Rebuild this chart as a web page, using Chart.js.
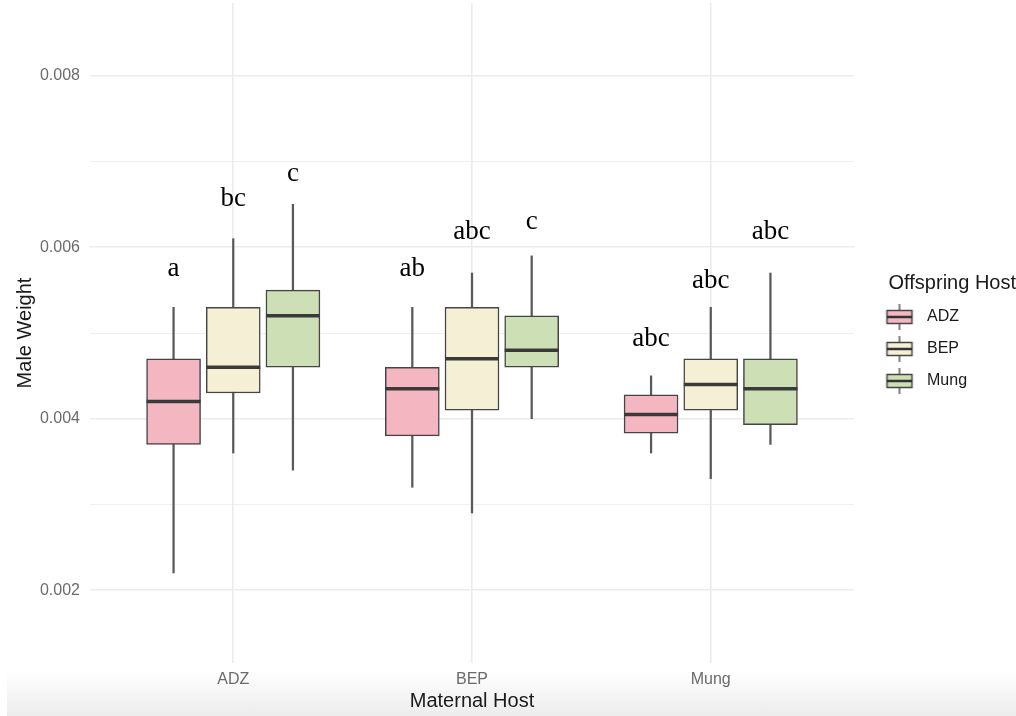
<!DOCTYPE html>
<html>
<head>
<meta charset="utf-8">
<title>Male Weight by Maternal Host</title>
<script src="https://cdn.jsdelivr.net/npm/chart.js@4.4.1/dist/chart.umd.min.js"></script>
<style>
  body { margin: 0; background: #fff; }
  #wrap { position: relative; width: 1016px; height: 716px; }
  #shade { position: absolute; left: 7px; right: 0; top: 670px; bottom: 0;
           background: linear-gradient(#ffffff, #ececec); }
  #chart { position: relative; }
</style>
</head>
<body>
<div id="wrap">
  <div id="shade"></div>
  <canvas id="chart" width="1016" height="716"></canvas>
</div>
<script>
// x axis groups and legend groups
const maternalHosts = ['ADZ', 'BEP', 'Mung'];
const offspringHosts = ['ADZ', 'BEP', 'Mung'];

// box statistics, one value per maternal host (ADZ, BEP, Mung)
const adzLow  = [0.0022, 0.0032, 0.0036];
const adzQ1   = [0.0037, 0.0038, 0.00383];
const adzMed  = [0.0042, 0.00435, 0.00405];
const adzQ3   = [0.0047, 0.0046, 0.00428];
const adzHigh = [0.0053, 0.0053, 0.0045];

const bepLow  = [0.0036, 0.0029, 0.0033];
const bepQ1   = [0.0043, 0.0041, 0.0041];
const bepMed  = [0.0046, 0.0047, 0.0044];
const bepQ3   = [0.0053, 0.0053, 0.0047];
const bepHigh = [0.0061, 0.0057, 0.0053];

const mungLow  = [0.0034, 0.0040, 0.0037];
const mungQ1   = [0.0046, 0.0046, 0.00393];
const mungMed  = [0.0052, 0.0048, 0.00435];
const mungQ3   = [0.0055, 0.0052, 0.0047];
const mungHigh = [0.0065, 0.0059, 0.0057];

// significance letters and where they sit (baseline value)
const adzLetters  = ['a', 'ab', 'abc'];
const bepLetters  = ['bc', 'abc', 'abc'];
const mungLetters = ['c', 'c', 'abc'];
const adzLetterY  = [0.00567, 0.00566, 0.00485];
const bepLetterY  = [0.00648, 0.00610, 0.00552];
const mungLetterY = [0.00677, 0.00621, 0.00610];

const yTicks = [0.002, 0.003, 0.004, 0.005, 0.006, 0.007, 0.008];

const fills = ['#f4b7c2', '#f5f0d5', '#cddfb4'];
const dodge = [-0.25, 0, 0.25];
const boxLine = '#454545';

const groups = [
  { low: adzLow, q1: adzQ1, med: adzMed, q3: adzQ3, high: adzHigh, letters: adzLetters, letterY: adzLetterY },
  { low: bepLow, q1: bepQ1, med: bepMed, q3: bepQ3, high: bepHigh, letters: bepLetters, letterY: bepLetterY },
  { low: mungLow, q1: mungQ1, med: mungMed, q3: mungQ3, high: mungHigh, letters: mungLetters, letterY: mungLetterY }
];

const pos = (i, j) => i + 1 + dodge[j];

// little boxplot glyphs for the legend
function makeGlyph(fill) {
  const c = document.createElement('canvas');
  c.width = 60; c.height = 30;
  const g = c.getContext('2d');
  g.strokeStyle = '#555'; g.lineWidth = 1.5;
  g.beginPath(); g.moveTo(35, 2); g.lineTo(35, 28); g.stroke();
  g.fillStyle = fill; g.fillRect(22, 8, 26, 14);
  g.strokeStyle = boxLine; g.strokeRect(22.5, 8.5, 25, 13);
  g.lineWidth = 2.5; g.strokeStyle = '#333';
  g.beginPath(); g.moveTo(22, 15); g.lineTo(48, 15); g.stroke();
  return c;
}
const glyphs = fills.map(makeGlyph);

const datasets = [];

// whiskers
datasets.push({
  type: 'bar', label: '', order: 3, grouped: false, barThickness: 1.6,
  backgroundColor: '#5a5a5a', borderWidth: 0,
  data: groups.flatMap((g, j) => maternalHosts.map((m, i) => ({ x: pos(i, j), y: [g.low[i], g.high[i]] })))
});

// boxes
groups.forEach((g, j) => {
  datasets.push({
    type: 'bar', label: offspringHosts[j], order: 2, grouped: false, barThickness: 54,
    backgroundColor: fills[j], borderColor: boxLine, borderWidth: 1.5, borderSkipped: false,
    data: maternalHosts.map((m, i) => ({ x: pos(i, j), y: [g.q1[i], g.q3[i]] }))
  });
});

// medians
datasets.push({
  type: 'scatter', label: '', order: 1,
  pointStyle: 'line', pointRadius: 27, pointBorderWidth: 3.5, pointBorderColor: '#3a3a3a',
  data: groups.flatMap((g, j) => maternalHosts.map((m, i) => ({ x: pos(i, j), y: g.med[i] })))
});

const letterPlugin = {
  id: 'letters',
  afterDatasetsDraw(chart) {
    const { ctx, scales: { x, y } } = chart;
    ctx.save();
    ctx.font = '27px "Liberation Serif", "Times New Roman", serif';
    ctx.fillStyle = '#000';
    ctx.textAlign = 'center';
    ctx.textBaseline = 'alphabetic';
    groups.forEach((g, j) => {
      maternalHosts.forEach((m, i) => {
        ctx.fillText(g.letters[i], x.getPixelForValue(pos(i, j)), y.getPixelForValue(g.letterY[i]));
      });
    });
    ctx.restore();
  }
};

// keep the legend column as wide as the space right of the panel
const legendWidthPlugin = {
  id: 'legendWidth',
  beforeLayout(chart) {
    const lg = chart.legend;
    if (lg && !lg._wide) {
      const fit = lg.fit.bind(lg);
      lg.fit = function () { fit(); this.width = 162; };
      lg._wide = true;
    }
  }
};

const sans = '"Liberation Sans", Arial, Helvetica, sans-serif';

new Chart(document.getElementById('chart'), {
  type: 'bar',
  data: { datasets },
  options: {
    responsive: false,
    animation: false,
    events: [],
    layout: { autoPadding: false, padding: { top: 3, left: 0, right: 0, bottom: 0 } },
    scales: {
      x: {
        type: 'linear', min: 0.4, max: 3.6, offset: false,
        afterBuildTicks: s => { s.ticks = maternalHosts.map((m, i) => ({ value: i + 1 })); },
        afterFit: s => { s.height = 53; s.paddingLeft = 0; s.paddingRight = 0; },
        border: { display: false },
        grid: { color: '#ebebeb', lineWidth: 1.6, drawTicks: false, offset: false },
        ticks: {
          padding: 7, color: '#6b6b6b', font: { family: sans, size: 16 },
          callback: v => maternalHosts[Math.round(v) - 1]
        },
        title: { display: true, text: 'Maternal Host', color: '#1a1a1a',
                 font: { family: sans, size: 20 }, padding: { top: 0, bottom: 3 } }
      },
      y: {
        min: 0.00115, max: 0.00885,
        afterBuildTicks: s => { s.ticks = yTicks.map(v => ({ value: v })); },
        afterFit: s => { s.width = 90; s.paddingTop = 0; s.paddingBottom = 0; },
        border: { display: false },
        grid: {
          color: '#ebebeb', drawTicks: false,
          lineWidth: c => (Math.round(c.tick.value * 1000) % 2 === 0 ? 1.6 : 0.8)
        },
        ticks: {
          padding: 10, color: '#6b6b6b', font: { family: sans, size: 16 },
          callback: v => (Math.round(v * 1000) % 2 === 0 ? v.toFixed(3) : '')
        },
        title: { display: true, text: 'Male Weight', color: '#1a1a1a',
                 font: { family: sans, size: 20 }, padding: { top: 13, bottom: 0 } }
      }
    },
    plugins: {
      tooltip: { enabled: false },
      legend: {
        position: 'right',
        align: 'center',
        fullSize: false,
        title: {
          display: true, text: 'Offspring Host', position: 'end', color: '#1a1a1a',
          font: { family: sans, size: 20 }, padding: { top: 12, bottom: -4 }
        },
        labels: {
          usePointStyle: true, pointStyleWidth: 49, padding: 16,
          color: '#222', font: { family: sans, size: 16 },
          generateLabels: () => offspringHosts.map((h, j) => ({
            text: h, pointStyle: glyphs[j], fillStyle: fills[j], strokeStyle: boxLine,
            lineWidth: 0, hidden: false, datasetIndex: j + 1
          }))
        }
      }
    }
  },
  plugins: [letterPlugin, legendWidthPlugin]
});
</script>
</body>
</html>
